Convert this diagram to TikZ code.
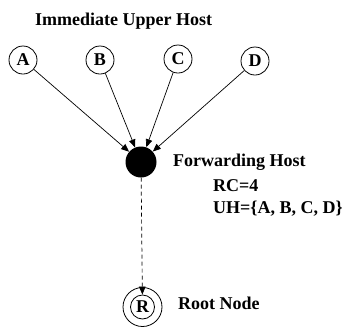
\documentclass[tikz,border=0pt]{standalone}
\usepackage{fontspec}
\setmainfont{Liberation Serif}
\usetikzlibrary{arrows.meta}
\begin{document}
\begin{tikzpicture}[x=1pt,y=-1pt,
  every node/.style={font=\fontsize{18}{20}\selectfont\bfseries},
  host/.style={circle,draw,line width=0.8pt,minimum size=28pt,inner sep=0pt},
  conn/.style={line width=0.7pt,-{Triangle[length=8pt,width=6.5pt]}},
  lbl/.style={anchor=base west,inner sep=0pt}]
\useasboundingbox (0,0) rectangle (348,330);
\node[lbl] (title) at (35,25) {Immediate Upper Host};
\node[host] (A) at (23,60) {A};
\node[host] (B) at (100,60) {B};
\node[host] (C) at (178,59) {C};
\node[host] (D) at (255,61) {D};
\node[circle,fill=black,minimum size=31pt,inner sep=0pt] (F) at (141,162) {};
\node[lbl] (fh) at (173,166) {Forwarding Host};
\node[lbl] (rc) at (213,191) {RC=4};
\node[lbl] (uh) at (213,213) {UH=\{A, B, C, D\}};
\node[circle,draw,line width=0.8pt,minimum size=39pt,inner sep=0pt] (Rout) at (142.5,307) {};
\node[circle,draw,line width=0.8pt,minimum size=24pt,inner sep=0pt] (R) at (142.5,307) {R};
\node[lbl] (rn) at (178,309) {Root Node};
\draw[conn] (A) -- (F);
\draw[conn] (B) -- (F);
\draw[conn] (C) -- (F);
\draw[conn] (D) -- (F);
\draw[conn,dash pattern=on 4pt off 3pt] (F) -- (R);
\end{tikzpicture}
\end{document}
